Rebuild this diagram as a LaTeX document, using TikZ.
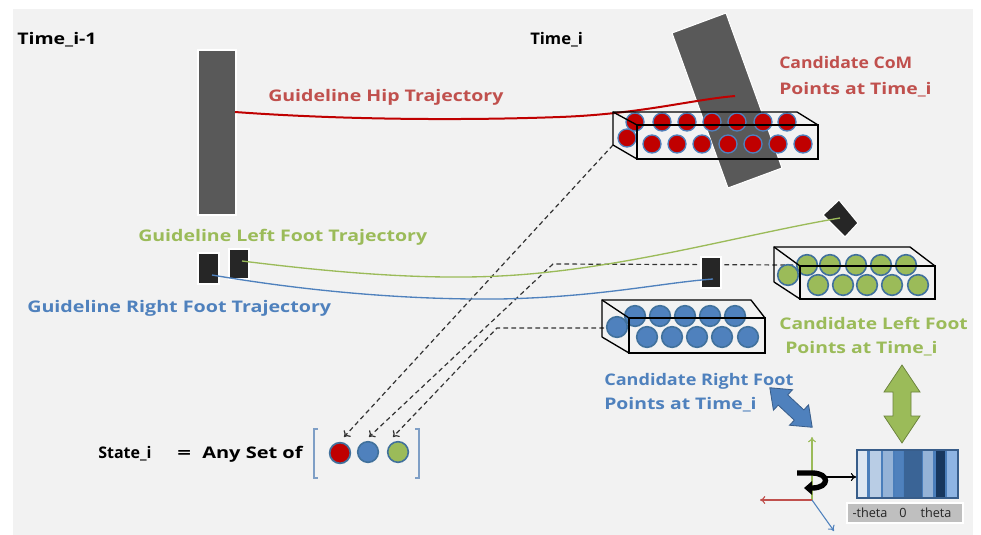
\documentclass[tikz,border=0pt]{standalone}
\usepackage{fontspec}
\setmainfont{Open Sans}
\usetikzlibrary{arrows.meta}
\definecolor{bgc}{HTML}{F2F2F2}
\definecolor{hipc}{HTML}{595959}
\definecolor{footc}{HTML}{262626}
\definecolor{txtred}{HTML}{C0504D}
\definecolor{txtgreen}{HTML}{9BBB59}
\definecolor{txtblue}{HTML}{4F81BD}
\definecolor{dotred}{HTML}{C00000}
\definecolor{dotedge}{HTML}{41719C}
\definecolor{hiplinec}{HTML}{C00000}
\definecolor{brk}{HTML}{7F9FC6}
\definecolor{sA}{HTML}{DCE6F2}
\definecolor{sB}{HTML}{B9CDE5}
\definecolor{sC}{HTML}{95B3D7}
\definecolor{sD}{HTML}{4F81BD}
\definecolor{sE}{HTML}{3A6496}
\definecolor{sF}{HTML}{8EB4E3}
\definecolor{sG}{HTML}{17375E}
\definecolor{histbg}{HTML}{4A7EBB}
\definecolor{histedge}{HTML}{385D8A}
\definecolor{lblgray}{HTML}{BFBFBF}
\tikzset{
  lbl/.style={font=\bfseries\fontsize{12}{14}\selectfont\addfontfeature{FakeStretch=#1}, inner sep=0pt, anchor=base west},
  lbl/.default=1.2,
  smalllbl/.style={font=\fontsize{9.5}{11}\selectfont, inner sep=0pt, text=footc},
  reddot/.style={circle, fill=dotred, draw=txtblue, line width=1pt, minimum size=13.5pt, inner sep=0pt},
  greendot/.style={circle, fill=txtgreen, draw=dotedge, line width=1.2pt, minimum size=15.5pt, inner sep=0pt},
  bluedot/.style={circle, fill=txtblue, draw=dotedge, line width=1.2pt, minimum size=15.5pt, inner sep=0pt},
  boxline/.style={draw=black, line width=1pt},
  dasharr/.style={draw=black!80, line width=0.9pt, dash pattern=on 3.5pt off 2.5pt, -{To[length=4pt,width=7pt]}},
  bodyrect/.style={fill=hipc, draw=white, line width=0.8pt},
  footrect/.style={fill=footc, draw=white, line width=0.8pt},
  axarr/.style={line width=0.8pt, -{To[length=4pt,width=6pt]}}
}
\begin{document}
\begin{tikzpicture}[x=0.75pt,y=-0.75pt]
\useasboundingbox (0,0) rectangle (981,535);
\fill[bgc] (13,9) rectangle (973,535);

% dashed connectors (behind everything)
\coordinate (rb) at (613,145);
\coordinate (c2) at (553,264);
\coordinate (e2) at (793,265);
\coordinate (c3) at (497,328);
\coordinate (e3) at (612,328);
\coordinate (t1) at (344,437);
\coordinate (t2) at (369,437);
\coordinate (t3) at (393,437);
\draw[dasharr] (rb) -- (t1);
\draw[dasharr] (e2) -- (c2) -- (t2);
\draw[dasharr] (e3) -- (c3) -- (t3);

% bodies and feet
\draw[bodyrect] (198,50) rectangle (236,215);
\draw[bodyrect] (672,33) -- (726,13) -- (782,168) -- (728,188) -- cycle;
\draw[footrect] (198,253) rectangle (219,284);
\draw[footrect] (229,249) rectangle (249,279);
\draw[footrect] (823,215) -- (839,200) -- (858,223) -- (845,237) -- cycle;
\draw[footrect] (701,257) rectangle (721,288);

% guideline trajectories
\draw[hiplinec, line width=1.5pt] (235,112) .. controls (330,119) and (450,121) .. (560,117) .. controls (640,114) and (690,100) .. (735,96);
\draw[txtgreen, line width=1pt] (242,261) .. controls (330,272) and (420,280) .. (500,276) .. controls (620,270) and (740,235) .. (840,218);
\draw[txtblue, line width=1pt] (212,275) .. controls (300,290) and (400,300) .. (500,299) .. controls (600,297) and (660,283) .. (713,279);

% red candidate box
\foreach \x [count=\i] in {635,662,687,712,737,763,787} \node[reddot] (rbk\i) at (\x,122) {};
\node[reddot] (rfr1) at (627,138) {};
\foreach \x [count=\i from 2] in {652,677,702,728,753,778,803} \node[reddot] (rfr\i) at (\x,144) {};
\draw[boxline] (613,145) -- (613,112) -- (797,112) -- (818,125);
\draw[boxline] (613,112) -- (637,125);
\draw[boxline] (613,145) -- (637,159);
\draw[boxline] (637,125) rectangle (818,159);

% green candidate box
\node[greendot] (gfirst) at (788,275) {};
\foreach \x [count=\i] in {807,830,856,881,906} \node[greendot] (gbk\i) at (\x,265) {};
\foreach \x [count=\i] in {818,843,867,892,918} \node[greendot] (gfr\i) at (\x,285) {};
\draw[boxline] (774,282) -- (774,247) -- (910,247) -- (935,266);
\draw[boxline] (774,247) -- (800,266);
\draw[boxline] (774,282) -- (800,299);
\draw[boxline] (800,266) rectangle (935,299);

% blue candidate box
\node[bluedot] (bfirst) at (617,327) {};
\foreach \x [count=\i] in {635,660,685,710,735} \node[bluedot] (bbk\i) at (\x,316) {};
\foreach \x [count=\i] in {647,672,697,722,748} \node[bluedot] (bfr\i) at (\x,337) {};
\draw[boxline] (602,337) -- (602,300) -- (751,300) -- (765,318);
\draw[boxline] (602,300) -- (629,318);
\draw[boxline] (602,337) -- (629,353);
\draw[boxline] (629,318) rectangle (765,353);

% texts
\node[lbl=1.22] (tim1) at (17,45) {Time\_i-1};
\node[lbl=1.04] (ti) at (530,45) {Time\_i};
\node[lbl=1.22, text=txtred] (hiptxt) at (268,101) {Guideline Hip Trajectory};
\node[lbl=1.10, text=txtred] (comA) at (779,69) {Candidate CoM};
\node[lbl=1.21, text=txtred] (comB) at (779,94) {Points at Time\_i};
\node[lbl=1.22, text=txtgreen] (lftxt) at (138,241) {Guideline Left Foot Trajectory};
\node[lbl=1.23, text=txtblue] (rftxt) at (27,312) {Guideline Right Foot Trajectory};
\node[lbl=1.2, text=txtgreen] (clfA) at (779,329) {Candidate Left Foot};
\node[lbl=1.21, text=txtgreen] (clfB) at (785,353) {Points at Time\_i};
\node[lbl=1.13, text=txtblue] (crfA) at (604,385) {Candidate Right Foot};
\node[lbl=1.21, text=txtblue] (crfB) at (604,409) {Points at Time\_i};
\node[lbl=1.0] (stateA) at (98,458) {State\_i};
\node[lbl=1.5] (stateB) at (177,458) {=};
\node[lbl=1.25] (stateC) at (202,458) {Any Set of};

% state set
\draw[brk, line width=1.2pt] (318,429) -- (314,429) -- (314,478) -- (318,478);
\draw[brk, line width=1.2pt] (415,429) -- (419,429) -- (419,478) -- (415,478);
\node[reddot, draw=dotedge, line width=1.3pt, minimum size=15.5pt] (s1) at (340,453) {};
\node[bluedot, minimum size=15.5pt] (s2) at (368,452) {};
\node[greendot, minimum size=15.5pt] (s3) at (398,452) {};

% double arrows
\fill[txtgreen, draw=txtgreen!70!black, line width=0.6pt] (902,365) -- (920,392) -- (911,392) -- (911,416) -- (920,416) -- (902,443) -- (884,416) -- (893,416) -- (893,392) -- (884,392) -- cycle;
\begin{scope}[shift={(791,407.5)}, rotate=-43]
\fill[txtblue, draw=histedge, line width=0.6pt] (-29,0) -- (-11,-14) -- (-11,-7) -- (11,-7) -- (11,-14) -- (29,0) -- (11,14) -- (11,7) -- (-11,7) -- (-11,14) -- cycle;
\end{scope}

% axes
\coordinate (ax) at (812,500);
\coordinate (axg) at (812,437);
\coordinate (axr) at (760,500);
\coordinate (axb) at (834,531);
\draw[axarr, txtgreen] (ax) -- (axg);
\draw[axarr, txtred] (ax) -- (axr);
\draw[axarr, txtblue] (ax) -- (axb);

% histogram
\fill[histbg] (857,450) rectangle (958,498);
\fill[sA] (858,451) rectangle (867,497);
\fill[sB] (870,451) rectangle (881,497);
\fill[sC] (883,451) rectangle (893,497);
\fill[sD] (895,451) rectangle (903,497);
\fill[sE] (904,451) rectangle (922,497);
\fill[sC] (923,451) rectangle (933,497);
\fill[sG] (936,451) rectangle (945,497);
\fill[sF] (947,451) rectangle (957,497);
\node[draw=histedge, line width=1.2pt, minimum width=75.75pt, minimum height=36pt, inner sep=0pt] (hist) at (907.5,474) {};

% rotation hook and arrow
\draw[line width=4pt, -{Triangle[length=6pt,width=10pt]}] (797,473) -- (812,473) .. controls (830,473) and (830,488) .. (812,488) -- (804,488);
\coordinate (hk) at (822,477);
\draw[line width=0.8pt, -{To[length=4pt,width=6pt]}] (hk) -- (hist.west |- hk);

% theta scale
\node[fill=lblgray, draw=white, line width=1.5pt, minimum width=87pt, minimum height=15pt, inner sep=0pt] (scalebar) at (905,513) {};
\node[smalllbl] (thm) at (870,513) {-theta};
\node[smalllbl] (th0) at (903,513) {0};
\node[smalllbl] (thp) at (936,513) {theta};
\end{tikzpicture}
\end{document}
